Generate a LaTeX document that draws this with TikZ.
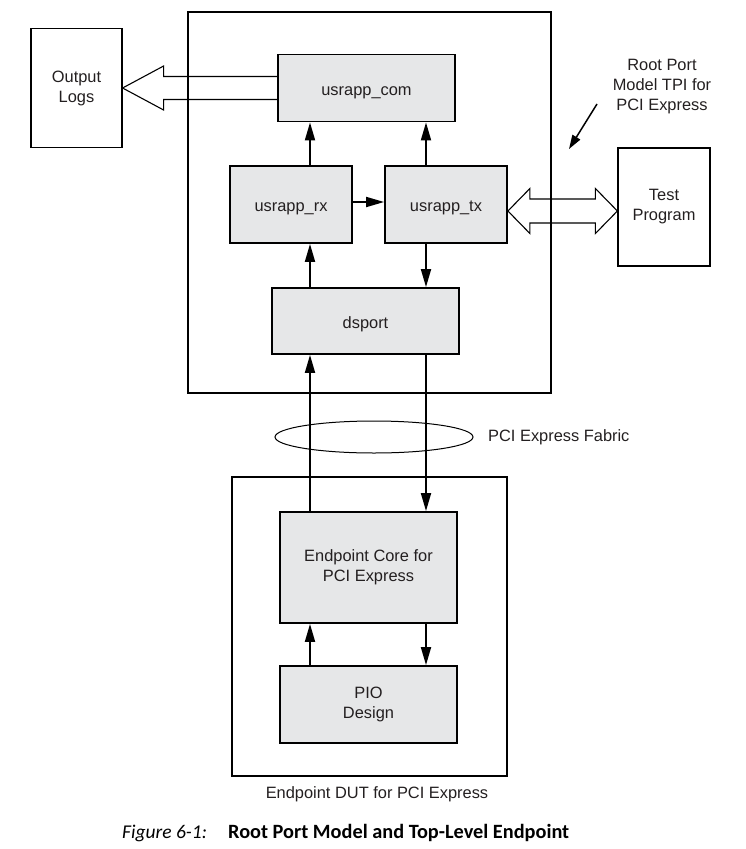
\documentclass[tikz,border=0pt]{standalone}
\usepackage{fontspec}
\setmainfont{Liberation Sans}
\newfontfamily\capfont{Carlito}
\usetikzlibrary{arrows.meta,calc,shapes.geometric}
\definecolor{gfill}{RGB}{230,231,232}
\definecolor{txt}{RGB}{35,31,32}
\begin{document}
\begin{tikzpicture}[x=1pt,y=-1pt,
  font=\fontsize{16.4}{20}\selectfont, text=txt,
  gbox/.style={draw=black, line width=1.8pt, fill=gfill, inner sep=0pt, align=center},
  oneline/.style={text height=14pt, text depth=0pt},
  obox/.style={draw=black, line width=1.2pt, inner sep=0pt, align=center},
  arr/.style={line width=1.8pt, -{Triangle[length=18pt,width=10pt]}},
  hollow/.style={line width=1.1pt, line join=miter}]
\useasboundingbox (0,0) rectangle (745,849);

% outer boxes
\node[obox, minimum width=363pt, minimum height=381pt] (rpm) at (369.5,202.5) {};
\node[obox, minimum width=275pt, minimum height=299pt] (dut) at (369.5,626.5) {};

% side boxes
\node[obox, minimum width=91pt, minimum height=119pt] (logs) at (76.5,88) {Output\\Logs};
\node[obox, minimum width=92pt, minimum height=118pt] (test) at (664,207) {Test\\Program};

% gray blocks
\node[gbox, oneline, minimum width=177pt, minimum height=67pt] (com) at (366.5,88) {usrapp\_com};
\node[gbox, oneline, minimum width=122pt, minimum height=77pt] (rx) at (291,204.5) {usrapp\_rx};
\node[gbox, oneline, minimum width=122pt, minimum height=77pt] (tx) at (446,204.5) {usrapp\_tx};
\node[gbox, oneline, minimum width=187pt, minimum height=66pt] (ds) at (365.5,321) {dsport};
\node[gbox, minimum width=177pt, minimum height=111pt] (ep) at (368.5,567.5) {Endpoint Core for\\PCI Express};
\node[gbox, minimum width=177pt, minimum height=77pt] (pio) at (368.5,704.5) {PIO\\Design};

% labels
\node[align=center] (rplbl) at (662,87) {Root Port\\Model TPI for\\PCI Express};
\node[draw=black, ellipse, line width=1pt, minimum width=198pt, minimum height=32pt, inner sep=0pt] (fab) at (374,437) {};
\node[anchor=west, inner sep=0pt] (fablbl) at (488,437) {PCI Express Fabric};
\node (dutlbl) at (377,794) {Endpoint DUT for PCI Express};

% caption
\node[anchor=base west, inner sep=0pt, text=black, font=\capfont\itshape\fontsize{19.5}{22}\selectfont] (figno) at (122,838) {Figure 6-1:};
\node[anchor=base west, inner sep=0pt, text=black, font=\capfont\bfseries\fontsize{20.3}{22}\selectfont] (cap) at (228,838) {Root Port Model and Top-Level Endpoint};

% column coordinates
\coordinate (cL) at (310,0);
\coordinate (cR) at (426,0);

% connectors
\draw[arr] (rx.north -| cL) -- (com.south -| cL);
\draw[arr] (tx.north -| cR) -- (com.south -| cR);
\draw[arr] (rx.east |- 0,202) -- (tx.west |- 0,202);
\draw[arr] (ds.north -| cL) -- (rx.south -| cL);
\draw[arr] (tx.south -| cR) -- (ds.north -| cR);
\draw[arr] (ep.north -| cL) -- (ds.south -| cL);
\draw[arr] (ds.south -| cR) -- (ep.north -| cR);
\draw[arr] (pio.north -| cL) -- (ep.south -| cL);
\draw[arr] (ep.south -| cR) -- (pio.north -| cR);

% pointer arrow
\coordinate (pa) at (597,104);
\coordinate (pb) at (569,149);
\draw[line width=1.5pt, -{Triangle[length=14pt,width=9pt]}] (pa) -- (pb);

% hollow arrow to output logs
\draw[hollow] ($(com.west)+(0,-11.5)$) -- ($(logs.east)+(41,-11.5)$) -- ($(logs.east)+(41,-22)$)
  -- (logs.east) -- ($(logs.east)+(41,22)$) -- ($(logs.east)+(41,11.5)$) -- ($(com.west)+(0,11.5)$);

% double hollow arrow
\coordinate (da) at ($(tx.east)+(0,6.5)$);
\coordinate (db) at (da -| test.west);
\draw[hollow] (da) -- ++(22,-22.5) -- ++(0,10.5) -- ($(db)+(-22,-12)$) -- ++(0,-10.5) -- (db)
  -- ++(-22,22.5) -- ++(0,-10.5) -- ($(da)+(22,12)$) -- ++(0,10.5) -- cycle;
\end{tikzpicture}
\end{document}
